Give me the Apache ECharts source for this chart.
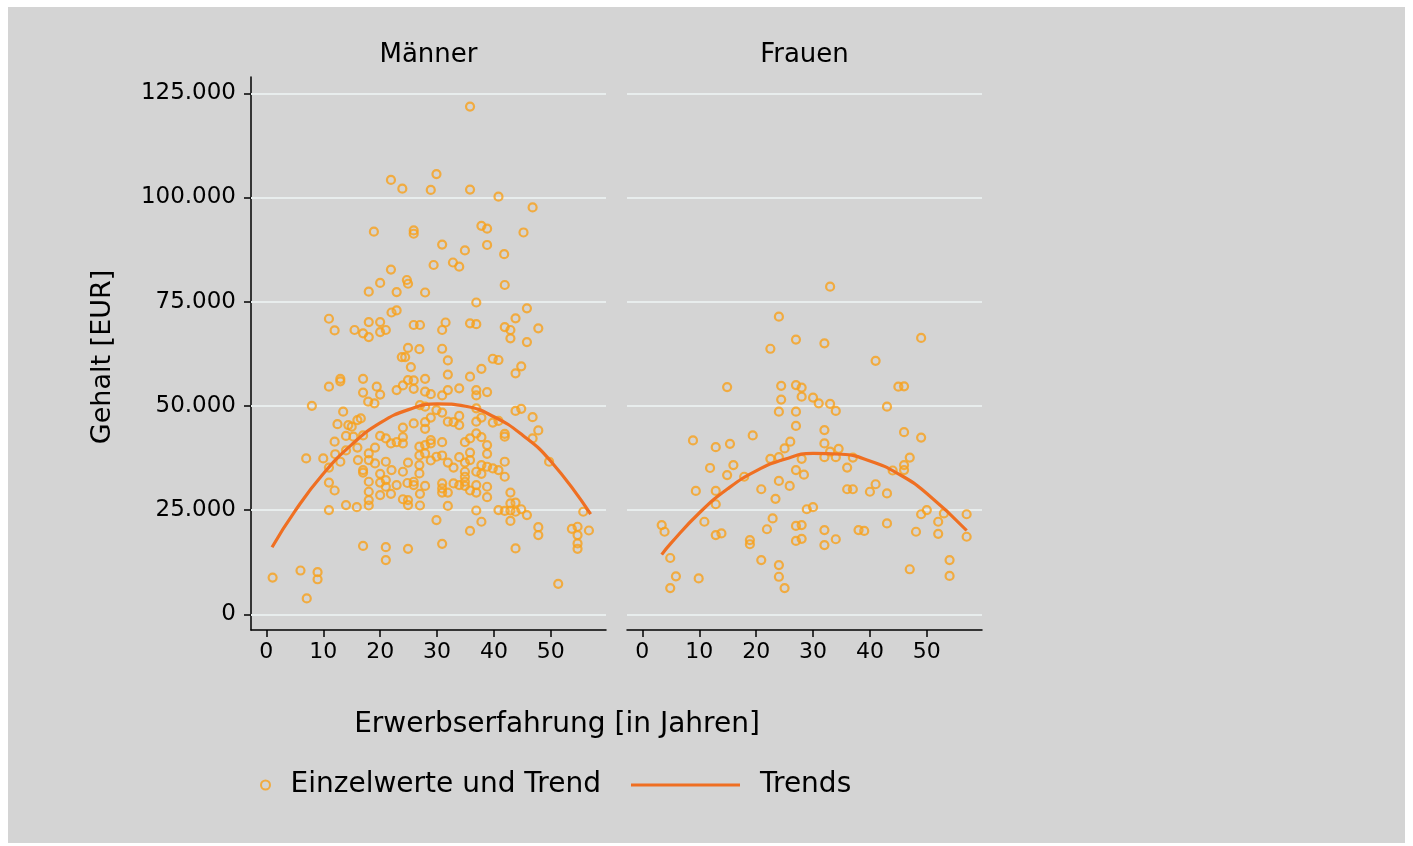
<!DOCTYPE html>
<html>
<head>
<meta charset="utf-8">
<title>Gehalt nach Erwerbserfahrung</title>
<script src="https://cdn.jsdelivr.net/npm/echarts@6/dist/echarts.min.js"></script>
<style>
  html, body { margin: 0; padding: 0; background: #fff; }
  #frame { position: absolute; left: 8px; top: 7px; width: 1397px; height: 836px; background: #d4d4d4; }
  #chart { position: absolute; left: 0; top: 0; width: 1413px; height: 846px; }
</style>
</head>
<body>
<div id="frame"></div>
<div id="chart"></div>
<script>
  // [Erwerbserfahrung in Jahren, Gehalt in Tsd. EUR]
  const menPoints = [
    [35.8,121.8],[21.9,104.2],[23.9,102.1],[28.9,101.8],[29.9,105.6],[35.8,101.9],[40.8,100.2],[46.8,97.6],
    [18.9,91.8],[25.9,92.1],[25.9,91.3],[37.8,93.2],[38.8,92.5],[45.2,91.6],[30.9,88.7],[34.9,87.3],[38.8,88.6],
    [41.8,86.4],[29.4,83.8],[32.8,84.4],[33.9,83.4],[21.9,82.7],[24.7,80.2],
    [18.0,77.4],[20.0,79.5],[22.9,77.3],[11.0,70.9],[12.0,68.1],[15.5,68.2],[17.0,67.4],[18.0,66.5],[18.0,70.1],
    [20.0,70.1],[20.0,67.7],[21.0,68.2],[22.0,72.4],[22.9,72.9],
    [11.0,54.6],[13.0,56.5],[13.0,55.9],[17.0,56.5],[19.4,54.6],[20.0,52.7],[17.0,53.2],[17.9,51.0],[19.0,50.6],
    [22.9,53.8],[8.0,50.0],[13.5,48.6],[12.5,45.6],[14.4,45.4],[15.0,45.0],[16.0,46.6],[16.6,47.0],[14.0,42.8],
    [15.3,42.6],[17.0,42.9],[12.0,41.4],[20.0,42.8],[21.0,42.2],[21.9,41.0],[22.9,41.3],
    [7.0,37.4],[10.0,37.4],[11.0,35.2],[12.1,38.4],[13.0,36.6],[14.0,39.3],[16.0,40.0],[16.1,37.0],[18.0,38.6],
    [18.0,37.0],[19.1,40.0],[19.1,36.2],[17.0,34.6],[17.0,34.0],[21.0,36.6],[22.0,34.6],
    [24.9,79.3],[27.9,77.2],[41.9,79.0],[36.9,74.8],[45.8,73.4],[43.8,71.0],[47.8,68.6],[41.9,68.9],[42.9,68.2],
    [42.9,66.2],[45.8,65.3],[25.9,69.4],[27.0,69.4],[31.5,70.0],[30.9,68.2],[35.8,69.8],[36.9,69.6],
    [24.9,63.9],[26.9,63.6],[30.9,63.7],[31.9,60.9],[25.4,59.3],[39.8,61.3],[40.8,61.0],[43.8,57.8],[44.8,59.5],
    [37.8,58.9],[35.8,57.0],[31.9,57.5],[27.9,56.5],[24.9,56.2],[25.9,56.1],[25.9,54.1],[24.0,54.9],[27.9,53.4],
    [28.9,52.8],[31.9,53.8],[30.9,52.5],[33.9,54.2],[36.9,53.8],[36.9,52.5],[38.8,53.3],
    [36.9,49.4],[43.8,48.8],[44.8,49.3],[46.8,47.3],[47.8,44.1],[41.9,43.3],[41.9,42.6],[46.8,42.2],[49.7,36.6],
    [29.9,49.0],[30.9,48.4],[27.0,50.2],[27.9,49.8],[28.9,47.2],[25.9,45.8],[27.9,46.1],[27.9,44.5],[31.9,46.2],
    [32.9,46.1],[33.9,47.6],[33.9,45.4],[36.9,46.2],[37.8,47.2],[39.8,46.0],[40.8,46.4],
    [24.0,42.5],[24.0,41.0],[26.9,40.2],[27.9,40.6],[28.9,41.8],[28.9,41.0],[30.9,41.3],[34.9,41.3],[35.8,42.2],
    [36.9,43.4],[37.8,42.5],[38.8,40.6],[26.9,38.1],[27.9,38.6],[28.9,36.9],[29.9,37.8],[30.9,38.1],[31.9,36.4],
    [32.9,35.2],[33.9,37.7],[34.9,36.4],[35.8,38.8],[35.8,37.0],[38.8,38.5],[37.8,35.8],[38.8,35.4],[39.8,35.0],
    [40.8,34.6],[36.9,34.2],[37.8,33.7],[34.9,34.2],[34.9,33.0],[24.9,36.4],[24.0,34.2],[26.9,35.8],[26.9,33.8],
    [41.9,36.6],[23.8,61.7],[24.4,61.7],[24.0,44.8],
    [11.0,31.6],[12.0,29.7],[14.0,26.2],[15.9,25.7],[18.0,27.4],[18.0,26.1],[11.0,25.0],[17.0,16.4],[21.0,16.1],
    [21.0,13.0],[24.9,15.7],[1.1,8.8],[6.0,10.5],[9.0,10.1],[9.0,8.4],[7.1,3.8],[18.0,31.8],[18.0,29.4],[20.0,33.7],
    [20.0,31.6],[20.0,28.6],[21.0,32.2],[21.0,30.6],[21.9,28.9],[22.9,31.0],
    [29.9,22.6],[30.9,16.9],[35.8,20.0],[36.9,24.9],[37.8,22.2],[38.8,28.1],[38.8,30.6],[40.8,25.0],[41.9,24.8],
    [42.9,26.6],[42.9,24.9],[42.9,22.4],[43.8,26.8],[43.8,24.6],[44.8,25.2],[45.8,23.8],[42.9,29.2],[43.8,15.8],
    [47.8,20.9],[47.8,19.0],[51.3,7.3],[53.7,20.5],[54.7,21.0],[54.7,19.0],[54.7,17.0],[54.7,15.7],[56.7,20.1],
    [55.7,24.6],
    [24.8,31.5],[25.9,31.8],[25.9,31.0],[24.0,27.6],[24.9,27.4],[24.9,26.2],[27.0,28.9],[27.0,26.1],[27.9,30.8],
    [30.9,31.4],[30.9,30.2],[30.9,29.2],[31.9,29.2],[31.9,26.0],[34.9,31.8],[34.9,30.8],[35.8,29.7],[36.9,31.0],
    [36.9,29.2],[41.9,33.0],[32.9,31.4],[33.9,31.0]
  ];

  const womenPoints = [
    [24.0,71.4],[27.0,65.9],[22.5,63.7],[14.9,54.5],[24.4,54.8],[24.4,51.5],[27.0,55.0],[28.0,54.4],[28.0,52.2],
    [30.0,52.0],[24.0,48.6],[27.0,48.6],[27.0,45.2],[8.9,41.7],[12.9,40.1],[15.4,40.9],[19.4,42.9],[26.0,41.4],
    [25.0,39.8],[22.5,37.3],[24.0,37.7],[28.0,37.3],[11.9,35.1],[16.0,35.8],[14.9,33.4],[27.0,34.6],[28.4,33.5],
    [17.9,33.0],
    [33.0,78.6],[32.0,65.0],[49.0,66.3],[41.0,60.8],[31.0,50.6],[33.0,50.5],[34.0,48.8],[43.0,49.8],[45.0,54.6],
    [46.0,54.7],[32.0,44.2],[32.0,41.0],[33.0,39.0],[34.5,39.7],[46.0,43.7],[49.0,42.4],[47.0,37.6],[46.0,35.8],
    [46.0,34.6],[44.0,34.5],[36.0,35.2],[37.0,37.6],[32.0,37.7],[34.0,37.7],
    [9.4,29.6],[12.9,29.6],[12.9,26.4],[10.9,22.2],[20.9,30.0],[24.0,32.0],[25.9,30.8],[23.4,27.7],[22.9,23.0],
    [21.9,20.4],[28.9,25.2],[27.0,21.2],[28.0,21.4],[27.0,17.6],[28.0,18.1],[3.4,21.4],[3.9,19.8],[12.9,19.0],
    [13.9,19.4],[18.9,17.8],[18.9,16.8],[4.9,13.5],[5.9,9.1],[4.9,6.3],[9.9,8.6],[20.9,13.0],[24.0,11.8],
    [24.0,9.0],[25.0,6.3],
    [36.0,30.0],[37.0,30.0],[40.0,29.4],[41.0,31.2],[43.0,29.0],[30.0,25.7],[32.0,20.2],[32.0,16.6],[34.0,18.0],
    [38.0,20.2],[39.0,20.0],[43.0,21.8],[47.0,10.8],[49.0,24.0],[50.0,25.0],[48.1,19.8],[52.0,22.2],[53.0,24.2],
    [52.0,19.3],[57.0,24.0],[57.0,18.6],[54.0,13.0],[54.0,9.2]
  ];

  // Trendkurven
  const menTrendYears = [1, 5, 10, 15, 20, 25, 30, 35, 40, 45, 50, 57];
  const menTrend = [16.1, 24.7, 33.7, 40.7, 45.9, 49.1, 50.5, 49.9, 47.4, 43.0, 36.7, 24.0];
  const womenTrendYears = [3.4, 5, 10, 15, 20, 25, 30, 35, 40, 45, 50, 57];
  const womenTrend = [14.3, 17.0, 24.3, 30.1, 34.4, 37.2, 38.6, 38.4, 36.8, 33.7, 29.0, 20.1];

  const xTicks = [0, 10, 20, 30, 40, 50];
  const yTicks = [0, 25000, 50000, 75000, 100000, 125000];
  const panels = ['Männer', 'Frauen'];

  const font = '"DejaVu Sans", sans-serif';
  const markerColor = '#f7a01a';
  const trendColor = '#ef6f22';
  const gridColor = '#e8eded';

  const toEur = pts => pts.map(p => [p[0], p[1] * 1000]);
  const trendData = (xs, ys) => xs.map((x, i) => [x, ys[i] * 1000]);
  const fmt = v => String(v).replace(/\B(?=(\d{3})+(?!\d))/g, '.');

  const chart = echarts.init(document.getElementById('chart'));

  const xAxisFor = idx => ({
    type: 'value', gridIndex: idx, min: -2.7, max: 59.7,
    axisLine: {show: true, onZero: false, lineStyle: {color: '#000', width: 1.5}},
    axisTick: {show: true, customValues: xTicks, length: 7, lineStyle: {color: '#000', width: 1.5}},
    axisLabel: {customValues: xTicks, color: '#000', fontSize: 22, fontFamily: font, margin: 11},
    splitLine: {show: false}
  });

  const yAxisFor = idx => ({
    type: 'value', gridIndex: idx, min: -3770, max: 128900,
    show: idx === 0,
    axisLine: {show: true, onZero: false, lineStyle: {color: '#000', width: 1.5}},
    axisTick: {show: true, customValues: yTicks, length: 7, lineStyle: {color: '#000', width: 1.5}},
    axisLabel: {customValues: yTicks, color: '#000', fontSize: 23, fontFamily: font, margin: 15, formatter: fmt},
    splitLine: {show: false}
  });

  const scatterFor = (idx, pts) => ({
    name: 'Einzelwerte und Trend', type: 'scatter',
    xAxisIndex: idx, yAxisIndex: idx, z: 3,
    symbol: 'circle', symbolSize: 8,
    itemStyle: {color: 'rgba(0,0,0,0)', borderColor: markerColor, borderWidth: 2.2},
    data: toEur(pts),
    markLine: {
      silent: true, symbol: 'none', z: 1, animation: false,
      label: {show: false},
      lineStyle: {color: gridColor, width: 2, type: 'solid'},
      data: yTicks.map(v => ({yAxis: v}))
    }
  });

  const trendFor = (idx, xs, ys) => ({
    name: 'Trends', type: 'line', xAxisIndex: idx, yAxisIndex: idx, z: 4,
    smooth: true, showSymbol: false, symbol: 'none',
    lineStyle: {color: trendColor, width: 3.2},
    itemStyle: {color: trendColor},
    data: trendData(xs, ys)
  });

  const option = {
    animation: false,
    backgroundColor: 'transparent',
    textStyle: {fontFamily: font},
    grid: [
      {left: 251, top: 77, width: 355, height: 553},
      {left: 627, top: 77, width: 355, height: 553}
    ],
    xAxis: [xAxisFor(0), xAxisFor(1)],
    yAxis: [yAxisFor(0), yAxisFor(1)],
    legend: [
      {
        data: ['Einzelwerte und Trend'], left: 255, top: 766,
        itemWidth: 40, itemHeight: 9,
        textStyle: {color: '#000', fontSize: 28, fontFamily: font}
      },
      {
        data: [{name: 'Trends', icon: 'rect'}], left: 626, top: 766,
        itemWidth: 109, itemHeight: 3,
        textStyle: {color: '#000', fontSize: 28, fontFamily: font, padding: [0, 0, 0, 15]}
      }
    ],
    graphic: [
      {type: 'text', x: 428.5, y: 55, style: {text: panels[0], font: '26px "DejaVu Sans"', fill: '#000', align: 'center', verticalAlign: 'middle', textAlign: 'center', textVerticalAlign: 'middle'}},
      {type: 'text', x: 804.5, y: 55, style: {text: panels[1], font: '26px "DejaVu Sans"', fill: '#000', align: 'center', verticalAlign: 'middle', textAlign: 'center', textVerticalAlign: 'middle'}},
      {type: 'text', x: 103, y: 357, rotation: Math.PI / 2, style: {text: 'Gehalt [EUR]', font: '27px "DejaVu Sans"', fill: '#000', align: 'center', verticalAlign: 'middle', textAlign: 'center', textVerticalAlign: 'middle'}},
      {type: 'text', x: 557, y: 725, style: {text: 'Erwerbserfahrung [in Jahren]', font: '28px "DejaVu Sans"', fill: '#000', align: 'center', verticalAlign: 'middle', textAlign: 'center', textVerticalAlign: 'middle'}}
    ],
    series: [
      scatterFor(0, menPoints),
      scatterFor(1, womenPoints),
      trendFor(0, menTrendYears, menTrend),
      trendFor(1, womenTrendYears, womenTrend)
    ]
  };

  chart.setOption(option);
</script>
</body>
</html>
